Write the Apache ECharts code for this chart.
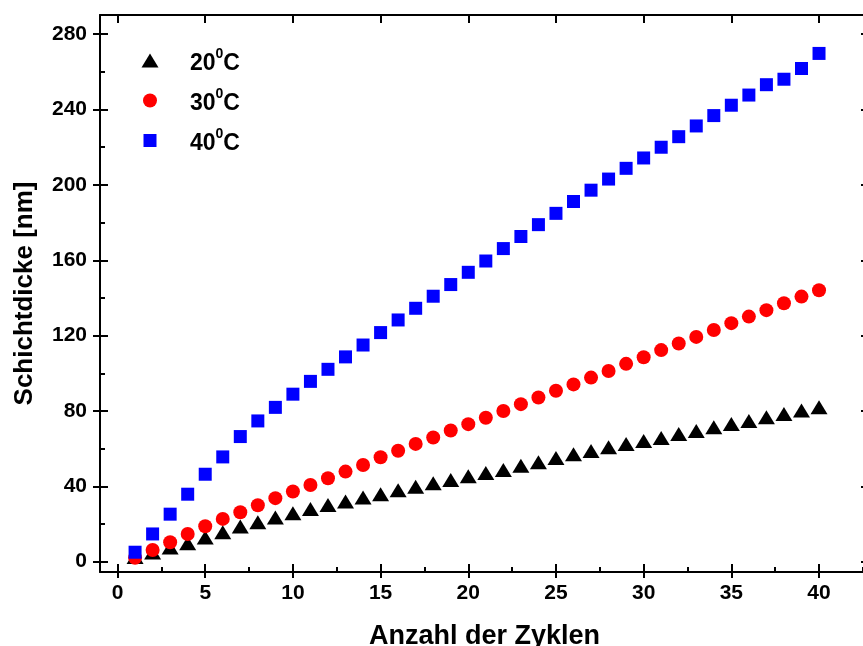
<!DOCTYPE html>
<html>
<head>
<meta charset="utf-8">
<script src="https://cdn.jsdelivr.net/npm/echarts@6/dist/echarts.min.js"></script>
<style>
  html, body { margin: 0; padding: 0; background: #ffffff; }
  #chart { width: 863px; height: 646px; }
</style>
</head>
<body>
<div id="chart"></div>
<script>
// ---- data ----
var cycles = [1,2,3,4,5,6,7,8,9,10,11,12,13,14,15,16,17,18,19,20,
              21,22,23,24,25,26,27,28,29,30,31,32,33,34,35,36,37,38,39,40];
var seriesNames = ['20⁰C', '30⁰C', '40⁰C'];
var t20 = [2.5,4.8,7.5,9.8,12.8,15.6,18.6,20.9,23.4,25.7,28.0,30.1,31.9,34.0,35.8,37.9,39.7,41.6,43.4,45.3,
           47.0,48.7,50.9,52.8,55.0,57.0,58.8,60.7,62.5,64.1,65.7,67.7,69.4,71.3,73.1,74.7,76.6,78.4,80.2,81.9];
var t30 = [2.1,6.2,10.3,14.7,18.8,22.7,26.2,29.9,33.7,37.2,40.7,44.3,47.8,51.3,55.4,58.9,62.5,65.9,69.6,73.0,
           76.4,80.0,83.6,87.1,90.7,94.1,97.7,101.2,105.0,108.5,112.3,115.8,119.3,123.0,126.6,130.1,133.5,137.2,140.7,144.1];
var t40 = [5.0,14.7,25.2,35.8,46.4,55.6,66.4,74.7,81.9,88.9,95.7,102.1,108.7,115.0,121.6,128.3,134.5,140.9,147.1,153.6,
           159.6,166.2,172.6,178.9,184.9,191.2,197.2,203.1,208.8,214.3,220.0,225.6,231.3,236.8,242.3,247.7,253.2,256.1,261.8,269.8];
var xMajorTicks = [0,5,10,15,20,25,30,35,40];
var xMinorTicks = [2.5,7.5,12.5,17.5,22.5,27.5,32.5,37.5,42.5];
var yMajorTicks = [0,40,80,120,160,200,240,280];
var yMinorTicks = [20,60,100,140,180,220,260];
var xTitle = 'Anzahl der Zyklen';
var yTitle = 'Schichtdicke [nm]';

function pairs(xs, ys) { return xs.map(function (x, i) { return [x, ys[i]]; }); }

var FONT = '"Liberation Sans", Arial, sans-serif';
var XMIN = -1, XMAX = 42.85, YMIN = -5.5, YMAX = 290.2;
var lineBlack = { color: '#000', width: 2 };
var symbols = ['triangle', 'circle', 'rect'];
var symbolSizes = [[17, 14], [14, 14], [13, 13]];
var colors = ['#000000', '#ff0000', '#0000ff'];

function xAxisBase(extra) {
  var a = { type: 'value', min: XMIN, max: XMAX, position: 'bottom', splitLine: { show: false },
            axisLine: { show: false, onZero: false }, axisLabel: { show: false },
            axisTick: { show: false } };
  return Object.assign(a, extra);
}
function yAxisBase(extra) {
  var a = { type: 'value', min: YMIN, max: YMAX, position: 'left', splitLine: { show: false },
            axisLine: { show: false, onZero: false }, axisLabel: { show: false },
            axisTick: { show: false } };
  return Object.assign(a, extra);
}

function makeLegend(i) {
  var w = symbolSizes[i][0], h = symbolSizes[i][1];
  var centerX = 150, centerY = 60 + 40 * i, textX = 190;
  var lh = 34, padTop = 7;
  return {
    orient: 'vertical', padding: 0,
    left: centerX - w / 2, top: centerY - (lh + padTop) / 2 + 7.5,
    itemWidth: w, itemHeight: h, data: [seriesNames[i]],
    formatter: function (n) {
      var p = n.split('⁰');
      return '{f|' + p[0] + '}{s|0}{b|' + p[1] + '}';
    },
    textStyle: {
      color: '#000', fontFamily: FONT, fontWeight: 'bold', fontSize: 23,
      padding: [padTop, 0, 0, 0],
      rich: {
        f: { fontFamily: FONT, fontWeight: 'bold', fontSize: 23, color: '#000', lineHeight: lh,
             padding: [0, 0, 0, textX - (centerX + w / 2 + 5)] },
        b: { fontFamily: FONT, fontWeight: 'bold', fontSize: 23, color: '#000', lineHeight: lh },
        s: { fontFamily: FONT, fontWeight: 'bold', fontSize: 14, color: '#000', verticalAlign: 'top', lineHeight: 14 }
      }
    }
  };
}

var chart = echarts.init(document.getElementById('chart'), null, { renderer: 'canvas' });
chart.setOption({
  animation: false,
  backgroundColor: '#ffffff',
  grid: { left: 100, top: 15, width: 769, height: 557, containLabel: false, outerBoundsMode: 'none' },
  legend: [makeLegend(0), makeLegend(1), makeLegend(2)],
  xAxis: [
    xAxisBase({
      axisLine: { show: true, onZero: false, lineStyle: lineBlack },
      axisTick: { show: true, inside: false, length: 6, lineStyle: lineBlack, customValues: xMajorTicks },
      axisLabel: { show: true, customValues: xMajorTicks, margin: 11, color: '#000',
                   fontFamily: FONT, fontWeight: 'bold', fontSize: 21 },
      name: xTitle, nameLocation: 'middle', nameGap: 51,
      nameTextStyle: { color: '#000', fontFamily: FONT, fontWeight: 'bold', fontSize: 27 }
    }),
    xAxisBase({ axisTick: { show: true, inside: true, length: 8, lineStyle: lineBlack, customValues: xMajorTicks } }),
    xAxisBase({ axisTick: { show: true, inside: true, length: 5, lineStyle: lineBlack, customValues: xMinorTicks } }),
    xAxisBase({ position: 'top',
      axisLine: { show: true, onZero: false, lineStyle: lineBlack },
      axisTick: { show: true, inside: true, length: 8, lineStyle: lineBlack, customValues: xMajorTicks } })
  ],
  yAxis: [
    yAxisBase({
      axisLine: { show: true, onZero: false, lineStyle: lineBlack },
      axisTick: { show: true, inside: false, length: 7, lineStyle: lineBlack, customValues: yMajorTicks },
      axisLabel: { show: true, customValues: yMajorTicks, margin: 13, color: '#000',
                   fontFamily: FONT, fontWeight: 'bold', fontSize: 21 },
      name: yTitle, nameLocation: 'middle', nameGap: 62,
      nameTextStyle: { color: '#000', fontFamily: FONT, fontWeight: 'bold', fontSize: 26 }
    }),
    yAxisBase({ axisTick: { show: true, inside: true, length: 8, lineStyle: lineBlack, customValues: yMajorTicks } }),
    yAxisBase({ axisTick: { show: true, inside: true, length: 5, lineStyle: lineBlack, customValues: yMinorTicks } }),
    yAxisBase({ position: 'right',
      axisLine: { show: true, onZero: false, lineStyle: lineBlack },
      axisTick: { show: true, inside: true, length: 8, lineStyle: lineBlack, customValues: yMajorTicks } })
  ],
  series: [0, 1, 2].map(function (i) {
    return {
      name: seriesNames[i], type: 'scatter', xAxisIndex: 0, yAxisIndex: 0,
      symbol: symbols[i], symbolSize: symbolSizes[i],
      itemStyle: { color: colors[i], opacity: 1 },
      data: pairs(cycles, [t20, t30, t40][i])
    };
  })
});
</script>
</body>
</html>
